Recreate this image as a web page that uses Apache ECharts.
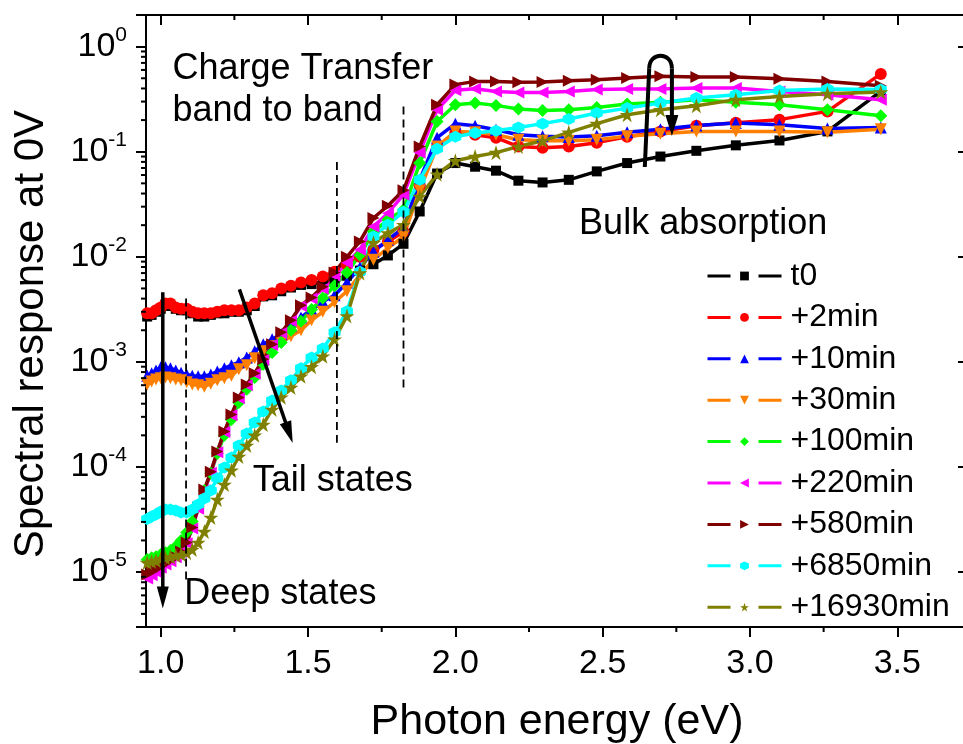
<!DOCTYPE html>
<html>
<head>
<meta charset="utf-8">
<script src="https://cdn.jsdelivr.net/npm/echarts@6/dist/echarts.min.js"></script>
<style>
  html, body { margin: 0; padding: 0; background: #fff; }
  #chart { width: 963px; height: 744px; }
</style>
</head>
<body>
<div id="chart"></div>
<script>
// photon energies (eV) of the measured points, same grid for every curve
const energy = [0.954, 0.969, 0.984, 1.000, 1.016, 1.033, 1.051, 1.069, 1.088, 1.107,
  1.127, 1.148, 1.170, 1.192, 1.216, 1.240, 1.265, 1.292, 1.319, 1.348,
  1.378, 1.409, 1.442, 1.476, 1.512, 1.550, 1.590, 1.632, 1.676, 1.722,
  1.771, 1.824, 1.879, 1.938, 2.000, 2.067, 2.138, 2.214, 2.296, 2.385,
  2.480, 2.583, 2.696, 2.818, 2.952, 3.100, 3.263, 3.444];

const t0 = [2.7e-3, 2.8e-3, 3.0e-3, 3.2e-3, 3.5e-3, 3.4e-3, 3.2e-3, 3.1e-3, 3.1e-3, 2.9e-3,
  2.7e-3, 2.7e-3, 2.8e-3, 2.9e-3, 2.9e-3, 3.0e-3, 3.0e-3, 3.1e-3, 3.4e-3,
  4.2e-3, 4.3e-3, 4.7e-3, 5.1e-3, 5.4e-3, 5.5e-3, 5.8e-3, 6.0e-3, 6.6e-3, 7.4e-3,
  8.5e-3, 1.03e-2, 1.33e-2, 2.7e-2, 6.2e-2, 7.8e-2, 7.2e-2, 6.6e-2, 5.3e-2, 5.1e-2, 5.4e-2,
  6.5e-2, 7.8e-2, 9.0e-2, 0.102, 0.115, 0.128, 0.156, 0.375];

const min2 = [2.9e-3, 2.9e-3, 3.1e-3, 3.3e-3, 3.6e-3, 3.6e-3, 3.3e-3, 3.2e-3, 3.2e-3, 3.0e-3,
  2.9e-3, 2.9e-3, 2.9e-3, 3.0e-3, 3.1e-3, 3.1e-3, 3.1e-3, 3.3e-3, 3.6e-3,
  4.3e-3, 4.5e-3, 5.0e-3, 5.3e-3, 5.7e-3, 6.0e-3, 6.5e-3, 7.2e-3, 8.4e-3, 1.0e-2,
  1.17e-2, 1.39e-2, 1.73e-2, 4.8e-2, 0.112, 0.152, 0.145, 0.136, 0.112, 0.109, 0.112,
  0.122, 0.139, 0.156, 0.177, 0.189, 0.202, 0.242, 0.55];

const min10 = [7.4e-4, 7.8e-4, 8.3e-4, 8.9e-4, 8.9e-4, 8.7e-4, 8.3e-4, 7.9e-4, 7.6e-4, 7.4e-4,
  7.3e-4, 7.3e-4, 7.6e-4, 8.1e-4, 8.7e-4, 9.3e-4, 9.9e-4, 1.10e-3, 1.26e-3,
  1.47e-3, 1.64e-3, 1.83e-3, 2.18e-3, 2.65e-3, 3.16e-3, 3.73e-3, 4.3e-3, 5.7e-3, 7.9e-3,
  1.12e-2, 1.45e-2, 1.89e-2, 5.4e-2, 0.136, 0.185, 0.177, 0.162, 0.145, 0.140, 0.138,
  0.142, 0.153, 0.164, 0.178, 0.188, 0.181, 0.166, 0.170];

const min30 = [6.1e-4, 6.5e-4, 6.8e-4, 7.0e-4, 7.1e-4, 7.0e-4, 6.8e-4, 6.7e-4, 6.4e-4, 6.1e-4,
  6.0e-4, 5.8e-4, 6.2e-4, 6.7e-4, 7.0e-4, 7.4e-4, 8.5e-4, 9.3e-4, 1.08e-3,
  1.26e-3, 1.41e-3, 1.53e-3, 1.75e-3, 2.0e-3, 2.49e-3, 3.0e-3, 3.7e-3, 4.7e-3, 6.7e-3,
  9.4e-3, 1.21e-2, 1.56e-2, 4.3e-2, 0.112, 0.156, 0.153, 0.145, 0.130, 0.127, 0.127,
  0.130, 0.140, 0.148, 0.156, 0.156, 0.156, 0.153, 0.164];

const min100 = [1.32e-5, 1.37e-5, 1.40e-5, 1.47e-5, 1.53e-5, 1.60e-5, 1.75e-5, 2.0e-5, 2.38e-5, 3.03e-5,
  4.2e-5, 5.98e-5, 8.7e-5, 1.34e-4, 2.0e-4, 2.83e-4, 4.1e-4, 5.5e-4, 7.1e-4,
  9.5e-4, 1.23e-3, 1.53e-3, 2.0e-3, 2.43e-3, 3.16e-3, 4.05e-3, 5.3e-3, 7.1e-3, 1.04e-2,
  1.74e-2, 2.25e-2, 2.80e-2, 7.8e-2, 0.194, 0.280, 0.291, 0.276, 0.255, 0.247, 0.251,
  0.264, 0.285, 0.295, 0.313, 0.295, 0.280, 0.251, 0.220];

const min220 = [8.7e-6, 9.3e-6, 1.0e-5, 1.10e-5, 1.18e-5, 1.27e-5, 1.38e-5, 1.55e-5, 1.88e-5, 2.6e-5,
  4.0e-5, 6.0e-5, 8.8e-5, 1.38e-4, 2.15e-4, 3.1e-4, 4.5e-4, 6.0e-4, 7.7e-4,
  1.04e-3, 1.45e-3, 1.88e-3, 2.45e-3, 3.4e-3, 4.02e-3, 4.96e-3, 6.6e-3, 8.8e-3, 1.17e-2,
  1.94e-2, 2.60e-2, 3.9e-2, 9.8e-2, 0.251, 0.385, 0.398, 0.375, 0.367, 0.367, 0.375,
  0.390, 0.396, 0.396, 0.405, 0.405, 0.375, 0.349, 0.313];

const min580 = [9.5e-6, 1.0e-5, 1.06e-5, 1.13e-5, 1.20e-5, 1.29e-5, 1.40e-5, 1.57e-5, 1.91e-5, 2.65e-5,
  4.11e-5, 6.1e-5, 9.0e-5, 1.40e-4, 2.18e-4, 3.16e-4, 4.59e-4, 6.1e-4, 7.8e-4,
  1.06e-3, 1.47e-3, 1.91e-3, 2.49e-3, 3.46e-3, 4.11e-3, 5.2e-3, 7.1e-3, 1.0e-2, 1.40e-2,
  2.34e-2, 3.06e-2, 4.3e-2, 0.112, 0.280, 0.435, 0.467, 0.467, 0.457, 0.46, 0.474,
  0.485, 0.503, 0.522, 0.515, 0.515, 0.496, 0.467, 0.425];

const min6850 = [3.2e-5, 3.38e-5, 3.53e-5, 3.77e-5, 3.94e-5, 3.94e-5, 3.85e-5, 3.69e-5, 3.69e-5, 3.94e-5,
  4.4e-5, 5.0e-5, 5.98e-5, 7.8e-5, 9.9e-5, 1.23e-4, 1.60e-4, 2.08e-4, 2.65e-4,
  3.38e-4, 4.3e-4, 5.35e-4, 6.7e-4, 8.7e-4, 1.10e-3, 1.34e-3, 1.91e-3, 3.03e-3, 7.2e-3,
  1.56e-2, 2.02e-2, 2.68e-2, 5.4e-2, 0.107, 0.139, 0.151, 0.158, 0.170, 0.185, 0.205,
  0.234, 0.260, 0.291, 0.325, 0.349, 0.383, 0.396, 0.390];

const min16930 = [1.23e-5, 1.26e-5, 1.29e-5, 1.34e-5, 1.37e-5, 1.40e-5, 1.44e-5, 1.47e-5, 1.53e-5, 1.64e-5,
  1.91e-5, 2.43e-5, 3.30e-5, 4.9e-5, 6.8e-5, 9.3e-5, 1.26e-4, 1.60e-4, 2.0e-4,
  2.54e-4, 3.53e-4, 4.6e-4, 5.7e-4, 7.3e-4, 9.0e-4, 1.13e-3, 1.64e-3, 2.73e-3, 7.0e-3,
  1.36e-2, 1.68e-2, 2.02e-2, 3.75e-2, 6.1e-2, 8.2e-2, 9.0e-2, 9.8e-2, 0.112, 0.127, 0.153,
  0.185, 0.225, 0.251, 0.274, 0.313, 0.336, 0.357, 0.370];

const seriesNames = ['t0', '+2min', '+10min', '+30min', '+100min', '+220min', '+580min', '+6850min', '+16930min'];
const seriesValues = [t0, min2, min10, min30, min100, min220, min580, min6850, min16930];
const seriesColors = ['#000000', '#ff0000', '#0000ff', '#ff8000', '#00ff00', '#ff00ff', '#800000', '#00ffff', '#808000'];
const hexagon = 'path://M0,-1L0.866,-0.5L0.866,0.5L0,1L-0.866,0.5L-0.866,-0.5Z';
const star = 'path://M0,-1L0.2245,-0.309L0.951,-0.309L0.363,0.118L0.588,0.809L0,0.382L-0.588,0.809L-0.363,0.118L-0.951,-0.309L-0.2245,-0.309Z';
const seriesSymbols = ['rect', 'circle', 'triangle', 'triangle', 'diamond', 'triangle', 'triangle', hexagon, star];
const symbolRotations = [0, 0, 0, 180, 0, 90, -90, 0, 0];
const symbolSizes = [10, 12, 12, 12, 13, 12, 12, 12, 15];

// axis ticks
const X_MIN = 0.95, X_MAX = 3.74;
const Y_MIN = 3e-6, Y_MAX = 2;
const xMajorTicks = [1.0, 1.5, 2.0, 2.5, 3.0, 3.5];
const xMinorTicks = [1.25, 1.75, 2.25, 2.75, 3.25];
const yMinorMantissas = [2, 3, 4, 5, 6, 7, 8, 9];
const yDecades = [1e-6, 1e-5, 1e-4, 1e-3, 1e-2, 1e-1, 1];

// annotations, in data coordinates
const dashedLines = [ // [energy, top, bottom]
  [1.086, 4.0e-3, 8.5e-6],
  [1.598, 8.0e-2, 1.7e-4],
  [1.824, 2.7e-1, 5.6e-4]
];
const straightArrows = [ // [from, to]
  [[1.007, 4.6e-3], [1.007, 4.5e-6]],
  [[1.267, 4.9e-3], [1.448, 1.69e-4]]
];
const hairpin = { start: [2.643, 7.15e-2], legTop: [2.658, 0.62], tip: [2.735, 0.141] };
const noteLabels = [
  ['Charge Transfer', 1.040, 0.613],
  ['band to band', 1.040, 0.241],
  ['Tail states', 1.312, 7.3e-5],
  ['Deep states', 1.080, 6.2e-6],
  ['Bulk absorption', 2.420, 2.04e-2]
];

const font = "'Liberation Sans', Arial, sans-serif";
const black = '#000';

const yMinorTicks = [];
yDecades.forEach(d => {
  yMinorMantissas.forEach(m => {
    const v = m * d;
    if (v > Y_MIN && v < Y_MAX) yMinorTicks.push(v);
  });
});

function powLabel(v) {
  const lg = Math.log10(v);
  const e = Math.round(lg);
  if (Math.abs(lg - e) > 1e-6) return '';
  return '10{sup|' + e + '}';
}

function seg(x1, y1, x2, y2, w) {
  return { type: 'line', shape: { x1, y1, x2, y2 }, style: { stroke: black, lineWidth: w } };
}

function arrowParts(p0, p1, headLen, headW, lw) {
  const dx = p1[0] - p0[0], dy = p1[1] - p0[1];
  const len = Math.hypot(dx, dy);
  const ux = dx / len, uy = dy / len, nx = -uy, ny = ux;
  const bx = p1[0] - ux * headLen, by = p1[1] - uy * headLen;
  return [
    seg(p0[0], p0[1], bx + ux * 2, by + uy * 2, lw),
    { type: 'polygon', shape: { points: [[p1[0], p1[1]], [bx + nx * headW / 2, by + ny * headW / 2], [bx - nx * headW / 2, by - ny * headW / 2]] },
      style: { fill: black } }
  ];
}

function renderNotes(params, api) {
  const children = [];
  // minor ticks of the frame
  yMinorTicks.forEach(v => {
    const l = api.coord([X_MIN, v]), r = api.coord([X_MAX, v]);
    children.push(seg(l[0] - 5, l[1], l[0], l[1], 2));
    children.push(seg(r[0] - 5, r[1], r[0], r[1], 2));
  });
  xMinorTicks.forEach(e => {
    const b = api.coord([e, Y_MIN]), t = api.coord([e, Y_MAX]);
    children.push(seg(b[0], b[1], b[0], b[1] + 5, 2));
    children.push(seg(t[0], t[1], t[0], t[1] + 5, 2));
  });
  dashedLines.forEach(d => {
    const a = api.coord([d[0], d[1]]), b = api.coord([d[0], d[2]]);
    children.push({ type: 'line', shape: { x1: a[0], y1: a[1], x2: b[0], y2: b[1] },
      style: { stroke: black, lineWidth: 1.8, lineDash: [8, 5] } });
  });
  straightArrows.forEach(a => {
    children.push(...arrowParts(api.coord(a[0]), api.coord(a[1]), 22, 12, 3.5));
  });
  // curved arrow
  const s = api.coord(hairpin.start);
  const lt = api.coord(hairpin.legTop);
  const tip = api.coord(hairpin.tip);
  const rt = [tip[0], lt[1]];
  children.push(seg(s[0], s[1], lt[0], lt[1], 4));
  children.push({ type: 'bezierCurve', shape: { x1: lt[0], y1: lt[1], cpx1: lt[0], cpy1: lt[1] - 17, cpx2: rt[0], cpy2: rt[1] - 17, x2: rt[0], y2: rt[1] },
    style: { stroke: black, lineWidth: 4, fill: null } });
  children.push(...arrowParts(rt, tip, 21, 13, 4));
  noteLabels.forEach(t => {
    const p = api.coord([t[1], t[2]]);
    children.push({ type: 'text', x: p[0], y: p[1],
      style: { text: t[0], fontSize: 36, fontFamily: font, fill: black, align: 'left', verticalAlign: 'middle' } });
  });
  return { type: 'group', children };
}

const lineSeries = seriesNames.map((name, k) => ({
  name,
  type: 'line',
  data: energy.map((e, i) => [e, seriesValues[k][i]]),
  symbol: seriesSymbols[k],
  symbolSize: symbolSizes[k],
  symbolRotate: symbolRotations[k],
  lineStyle: { color: seriesColors[k], width: 3.5 },
  itemStyle: { color: seriesColors[k] },
  emphasis: { disabled: true },
  z: 2
}));

const tickStyle = { color: black, width: 2 };
const chart = echarts.init(document.getElementById('chart'));
chart.setOption({
  animation: false,
  textStyle: { fontFamily: font },
  grid: { left: 146, right: -5, top: 15, bottom: 117, outerBoundsMode: 'none' },
  legend: {
    orient: 'vertical',
    left: 706,
    top: 260,
    padding: 0,
    itemWidth: 74,
    itemHeight: 11,
    itemGap: 9.4,
    selectedMode: false,
    data: seriesNames,
    lineStyle: { type: [23, 28], width: 3 },
    textStyle: { fontSize: 32, lineHeight: 31, color: black, fontFamily: font, padding: [0, 0, 0, 4] }
  },
  xAxis: [
    {
      type: 'value', min: X_MIN, max: X_MAX, position: 'bottom',
      axisLine: { show: true, onZero: false, lineStyle: tickStyle },
      axisTick: { customValues: xMajorTicks, length: 10, lineStyle: tickStyle },
      axisLabel: { customValues: xMajorTicks, formatter: v => v.toFixed(1), fontSize: 34, color: black, margin: 20, fontFamily: font },
      splitLine: { show: false },
      name: 'Photon energy (eV)', nameLocation: 'middle', nameGap: 74,
      nameTextStyle: { fontSize: 43, color: black, fontFamily: font }
    },
    {
      type: 'value', min: X_MIN, max: X_MAX, position: 'top',
      axisLine: { show: true, onZero: false, lineStyle: tickStyle },
      axisTick: { customValues: xMajorTicks, inside: true, length: 10, lineStyle: tickStyle },
      axisLabel: { show: false }, splitLine: { show: false }
    }
  ],
  yAxis: [
    {
      type: 'log', logBase: 10, min: Y_MIN, max: Y_MAX, position: 'left',
      axisLine: { show: true, onZero: false, lineStyle: tickStyle },
      axisTick: { length: 10, lineStyle: tickStyle },
      axisLabel: {
        formatter: powLabel, fontSize: 34, lineHeight: 44, color: black, margin: 19, fontFamily: font,
        rich: { sup: { fontSize: 21, lineHeight: 21, verticalAlign: 'top', color: black, fontFamily: font } }
      },
      splitLine: { show: false },
      name: 'Spectral response at 0V', nameLocation: 'middle', nameGap: 94, nameRotate: 90,
      nameTextStyle: { fontSize: 42, color: black, fontFamily: font, padding: [0, 26, 0, 0] }
    },
    {
      type: 'log', logBase: 10, min: Y_MIN, max: Y_MAX, position: 'right',
      axisLine: { show: true, onZero: false, lineStyle: tickStyle },
      axisTick: { inside: true, length: 10, lineStyle: tickStyle },
      axisLabel: { show: false }, splitLine: { show: false }
    }
  ],
  series: lineSeries.concat([{
    type: 'custom',
    name: 'notes',
    data: [[2, 0.1]],
    renderItem: renderNotes,
    silent: true,
    clip: false,
    z: 10
  }])
});
</script>
</body>
</html>
